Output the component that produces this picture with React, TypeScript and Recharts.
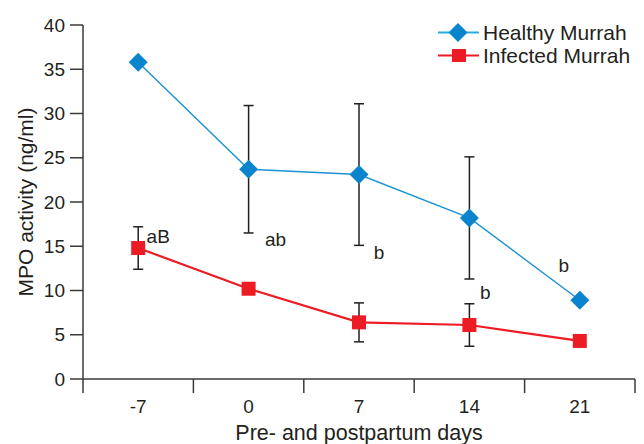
import React from 'react';
import { LineChart, Line, XAxis, YAxis, ErrorBar, Legend, LabelList, Label } from 'recharts';

// values
const days = ['-7', '0', '7', '14', '21'];
const healthy = [35.8, 23.7, 23.1, 18.2, 8.9];
const healthyErr = [0, 7.2, 8.0, 6.9, 0];
const infected = [14.8, 10.2, 6.4, 6.1, 4.3];
const infectedErr = [2.4, 0, 2.2, 2.4, 0];
const sigLabels = ['aB', 'ab', 'b', 'b', 'b'];
const sigLevels = [16.1, 15.8, 14.3, 9.8, 12.8];
const yTicks = [0, 5, 10, 15, 20, 25, 30, 35, 40];
const xBounds = [-0.5, 0.5, 1.5, 2.5, 3.5, 4.5];

const data = days.map((day, i) => ({
  idx: i,
  day,
  healthy: healthy[i],
  healthyErr: healthyErr[i],
  infected: infected[i],
  infectedErr: infectedErr[i],
  sig: sigLabels[i],
  sigY: sigLevels[i],
}));

const FONT = '"Liberation Sans", Arial, Helvetica, sans-serif';
const TEXT = '#231f20';
const AXIS = '#3a3a3a';
const BLUE_LINE = '#1a92d4';
const BLUE_MARK = '#0a84cc';
const BLUE_LEGEND = '#29abe2';
const RED = '#ed1c24';

const W = 636;
const H = 436;
const MARGIN = { top: 17, right: 9, left: 0, bottom: 0 };
const Y_AXIS_W = 75;
const BAND = (W - MARGIN.left - MARGIN.right - Y_AXIS_W) / days.length;

// horizontal nudges for the letter annotations, per day
const labelDx = [20, 27, 20, 16, -16];

const Diamond = (props: any) => {
  const { cx, cy, index } = props;
  if (cx == null || cy == null) return null;
  const r = 9.5;
  return (
    <polygon
      key={`d-${index}`}
      points={`${cx},${cy - r} ${cx + r},${cy} ${cx},${cy + r} ${cx - r},${cy}`}
      fill={BLUE_MARK}
    />
  );
};

const Square = (props: any) => {
  const { cx, cy, index } = props;
  if (cx == null || cy == null) return null;
  const s = 14;
  return <rect key={`s-${index}`} x={cx - s / 2} y={cy - s / 2} width={s} height={s} fill={RED} />;
};

const XTick = (props: any) => {
  const { x, y, payload } = props;
  const i = payload.value + 0.5;
  if (i >= days.length) return <g />;
  return (
    <text x={x + BAND / 2} y={y} dy="0.71em" textAnchor="middle" fontSize={19} fontFamily={FONT} fill={TEXT}>
      {days[i]}
    </text>
  );
};

const renderLegend = (props: any) => {
  const payload = (props.payload || []).filter((e: any) => e.type !== 'none' && e.dataKey !== 'sigY');
  return (
    <div style={{ fontFamily: FONT, fontSize: 21, color: TEXT }}>
      {payload.map((entry: any) => {
        const isHealthy = entry.dataKey === 'healthy';
        return (
          <div key={entry.value} style={{ display: 'flex', alignItems: 'center', height: 23 }}>
            <svg width={45} height={23} style={{ display: 'block' }}>
              <line x1={0} x2={41} y1={11.5} y2={11.5} stroke={isHealthy ? BLUE_LEGEND : RED} strokeWidth={2} />
              {isHealthy ? (
                <polygon points="20,2 29.5,11.5 20,21 10.5,11.5" fill={BLUE_MARK} />
              ) : (
                <rect x={14} y={5} width={14} height={13} fill={RED} />
              )}
            </svg>
            <span style={{ lineHeight: '23px' }}>{entry.value}</span>
          </div>
        );
      })}
    </div>
  );
};

const SigLabel = (props: any) => {
  const { x, y, value, index } = props;
  return (
    <text
      x={x + labelDx[index]}
      y={y}
      textAnchor="middle"
      dominantBaseline="central"
      fontSize={19}
      fontFamily={FONT}
      fill={TEXT}
    >
      {value}
    </text>
  );
};

export default function App() {
  return (
    <LineChart width={W} height={H} data={data} margin={MARGIN}>
      <XAxis
        dataKey="idx"
        type="number"
        domain={[-0.5, 4.5]}
        ticks={xBounds}
        interval={0}
        tick={<XTick />}
        tickSize={14}
        tickMargin={7}
        height={65}
        stroke={AXIS}
        strokeWidth={1.5}
      >
        <Label
          content={(p: any) => {
            const vb = p.viewBox;
            return (
              <text
                x={vb.x + vb.width / 2}
                y={vb.y + 61}
                textAnchor="middle"
                fontSize={21.5}
                fontFamily={FONT}
                fill={TEXT}
              >
                Pre- and postpartum days
              </text>
            );
          }}
        />
      </XAxis>
      <YAxis
        type="number"
        domain={[0, 40]}
        ticks={yTicks}
        interval={0}
        width={Y_AXIS_W}
        tickSize={13}
        tickMargin={5}
        tick={{ fontSize: 19, fontFamily: FONT, fill: TEXT }}
        stroke={AXIS}
        strokeWidth={1.5}
      >
        <Label
          content={(p: any) => {
            const vb = p.viewBox;
            const cx = vb.x + 17;
            const cy = vb.y + vb.height / 2;
            return (
              <text
                x={cx}
                y={cy}
                transform={`rotate(-90, ${cx}, ${cy})`}
                textAnchor="middle"
                dominantBaseline="central"
                fontSize={21}
                fontFamily={FONT}
                fill={TEXT}
              >
                MPO activity (ng/ml)
              </text>
            );
          }}
        />
      </YAxis>
      <Legend
        layout="vertical"
        align="center"
        verticalAlign="middle"
        content={renderLegend}
        wrapperStyle={{ top: 13, left: 430, width: 206 }}
      />
      <Line
        name="Healthy Murrah"
        dataKey="healthy"
        stroke={BLUE_LINE}
        strokeWidth={1.4}
        dot={<Diamond />}
        activeDot={false}
        isAnimationActive={false}
      >
        <ErrorBar dataKey="healthyErr" direction="y" width={5} stroke={TEXT} strokeWidth={1.5} />
      </Line>
      <Line
        name="Infected Murrah"
        dataKey="infected"
        stroke={RED}
        strokeWidth={2.2}
        dot={<Square />}
        activeDot={false}
        isAnimationActive={false}
      >
        <ErrorBar dataKey="infectedErr" direction="y" width={5} stroke={TEXT} strokeWidth={1.5} />
      </Line>
      <Line
        dataKey="sigY"
        stroke="none"
        dot={false}
        activeDot={false}
        legendType="none"
        isAnimationActive={false}
      >
        <LabelList dataKey="sig" content={<SigLabel />} />
      </Line>
    </LineChart>
  );
}
